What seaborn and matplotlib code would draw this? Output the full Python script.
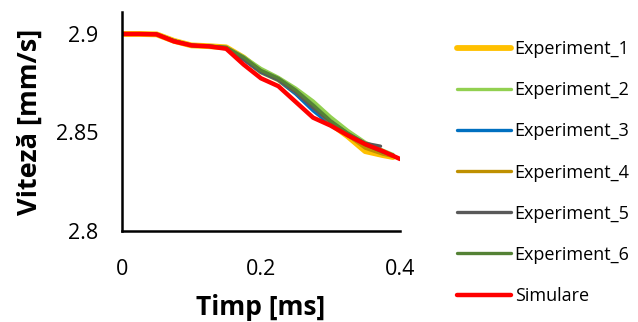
import matplotlib
matplotlib.use("Agg")
import matplotlib.pyplot as plt
import seaborn as sns

# Values
x_common = [0.0, 0.025, 0.05, 0.075, 0.1, 0.125, 0.15, 0.175, 0.2, 0.225,
            0.25, 0.275, 0.3, 0.325, 0.35, 0.375, 0.39]

exp1 = [2.900, 2.900, 2.8998, 2.8965, 2.8942, 2.8938, 2.8932, 2.8880, 2.8810, 2.8770,
        2.8705, 2.8625, 2.8545, 2.8480, 2.8405, 2.8385, 2.8375]
exp2 = [2.900, 2.900, 2.8998, 2.8965, 2.8942, 2.8938, 2.8932, 2.8885, 2.8825, 2.8780,
        2.8725, 2.8660, 2.8580, 2.8510, 2.8450, 2.8410, 2.8388]
exp3 = [2.900, 2.900, 2.8998, 2.8965, 2.8942, 2.8938, 2.8930, 2.8870, 2.8805, 2.8765,
        2.8695, 2.8610, 2.8540, 2.8485, 2.8430, 2.8395, 2.8380]
exp4 = [2.900, 2.900, 2.8998, 2.8965, 2.8942, 2.8938, 2.8932, 2.8878, 2.8810, 2.8768,
        2.8705, 2.8630, 2.8550, 2.8485, 2.8420, 2.8390, 2.8378]
x_exp5 = [0.0, 0.025, 0.05, 0.075, 0.1, 0.125, 0.15, 0.175, 0.2, 0.225,
          0.25, 0.275, 0.3, 0.325, 0.35, 0.372]
exp5 = [2.900, 2.900, 2.8998, 2.8965, 2.8942, 2.8938, 2.8930, 2.8872, 2.8808, 2.8768,
        2.8705, 2.8625, 2.8555, 2.8495, 2.8445, 2.8430]
exp6 = [2.900, 2.900, 2.8998, 2.8965, 2.8942, 2.8938, 2.8932, 2.8882, 2.8815, 2.8775,
        2.8715, 2.8640, 2.8560, 2.8495, 2.8440, 2.8400, 2.8385]

x_sim = [0.0, 0.025, 0.05, 0.075, 0.1, 0.125, 0.15, 0.175, 0.2, 0.225,
         0.25, 0.275, 0.3, 0.325, 0.35, 0.375, 0.4]
sim = [2.900, 2.900, 2.8998, 2.8962, 2.8942, 2.8937, 2.8925, 2.8845, 2.8775, 2.8735,
       2.8655, 2.8575, 2.8535, 2.8485, 2.8440, 2.8405, 2.8365]

labels = ["Experiment_1", "Experiment_2", "Experiment_3", "Experiment_4",
          "Experiment_5", "Experiment_6", "Simulare"]
colors = ["#FFC000", "#92D050", "#0070C0", "#BF9000", "#595959", "#548235", "#FF0000"]
widths = [4.2, 2.4, 2.4, 2.4, 2.4, 2.4, 3.2]

sns.set_style("white")
plt.rcParams["font.family"] = ["Open Sans", "DejaVu Sans"]
plt.rcParams["text.color"] = "black"
plt.rcParams["axes.labelcolor"] = "black"

fig = plt.figure(figsize=(6.38, 3.22), dpi=100)
ax = fig.add_axes([0.191, 0.283, 0.436, 0.68])

series = [(x_common, exp1), (x_common, exp2), (x_common, exp3), (x_common, exp4),
          (x_exp5, exp5), (x_common, exp6), (x_sim, sim)]
for (xs, ys), lab, col, lw in zip(series, labels, colors, widths):
    sns.lineplot(x=xs, y=ys, ax=ax, color=col, linewidth=lw, label=lab,
                 sort=False, solid_capstyle="round")

ax.set_xlim(0, 0.4)
ax.set_ylim(2.8, 2.9112)
ax.set_xticks([0, 0.2, 0.4])
ax.set_xticklabels(["0", "0.2", "0.4"])
ax.set_yticks([2.8, 2.85, 2.9])
ax.set_yticklabels(["2.8", "2.85", "2.9"])
ax.tick_params(axis="both", length=0, labelsize=15.5, labelcolor="black")
ax.tick_params(axis="x", pad=20)
ax.tick_params(axis="y", pad=17)

for side in ["top", "right"]:
    ax.spines[side].set_visible(False)
for side in ["left", "bottom"]:
    ax.spines[side].set_color("black")
    ax.spines[side].set_linewidth(1.8)

ax.set_xlabel("Timp [ms]", fontsize=19, fontweight="bold", labelpad=10)
ax.set_ylabel("Viteză [mm/s]", fontsize=19.5, fontweight="bold", labelpad=9)

ax.get_legend().remove()
handles, labs = ax.get_legend_handles_labels()
fig.legend(handles, labs, loc="upper left", bbox_to_anchor=(0.716, 0.875),
           frameon=False, fontsize=13, handlelength=3.0, handletextpad=0.2,
           labelspacing=1.28, borderpad=0, borderaxespad=0)

fig.savefig("out.png", dpi=100)
